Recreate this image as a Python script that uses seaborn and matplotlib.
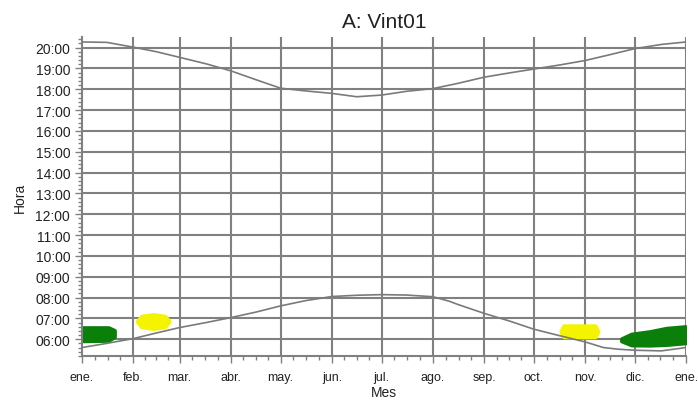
import matplotlib
matplotlib.use("Agg")
import matplotlib.pyplot as plt
import seaborn as sns
import pandas as pd
from matplotlib.ticker import FixedLocator, FuncFormatter

# MONTHS (day of year where each month starts)
month_labels = ["ene.", "feb.", "mar.", "abr.", "may.", "jun.", "jul.",
                "ago.", "sep.", "oct.", "nov.", "dic.", "ene."]
month_start_days = [0, 31, 59, 90, 120, 151, 181, 212, 243, 273, 304, 334, 365]

# SUNSET CURVE (hours)
sunset_days = [0, 15, 31, 45, 59, 75, 90, 105, 120, 135, 151, 166, 181,
               196, 212, 227, 243, 258, 273, 289, 304, 319, 334, 350, 365]
sunset_hours = [20.27, 20.25, 20.02, 19.80, 19.53, 19.22, 18.88, 18.46, 18.05,
                17.92, 17.80, 17.64, 17.72, 17.90, 18.03, 18.28, 18.58, 18.78,
                18.97, 19.17, 19.38, 19.66, 19.95, 20.15, 20.27]

# SUNRISE CURVE (hours)
sunrise_days = [0, 15, 31, 45, 59, 75, 90, 105, 120, 135, 151, 166, 181,
                196, 212, 222, 227, 243, 258, 273, 289, 304, 315, 324, 334,
                350, 365]
sunrise_hours = [5.60, 5.80, 6.03, 6.30, 6.56, 6.80, 7.04, 7.30, 7.60, 7.85,
                 8.05, 8.11, 8.14, 8.12, 8.04, 7.82, 7.67, 7.24, 6.88, 6.48,
                 6.16, 5.87, 5.60, 5.52, 5.47, 5.44, 5.60]

# EVENT AREAS (day, low hour, high hour)
green_jan_days = [0.5, 16, 19.5]
green_jan_low = [5.93, 5.95, 6.12]
green_jan_high = [6.55, 6.55, 6.42]

yellow_feb_days = [33.5, 36, 43, 50, 52.5]
yellow_feb_low = [6.85, 6.60, 6.52, 6.60, 6.85]
yellow_feb_high = [6.88, 7.10, 7.18, 7.10, 6.88]

yellow_nov_days = [289.5, 291, 310, 311.5]
yellow_nov_low = [6.35, 6.12, 6.12, 6.35]
yellow_nov_high = [6.40, 6.64, 6.64, 6.40]

green_dec_days = [326, 332, 343, 353, 364.5]
green_dec_low = [5.92, 5.73, 5.72, 5.75, 5.83]
green_dec_high = [6.02, 6.24, 6.36, 6.52, 6.60]

sunset_df = pd.DataFrame({"day": sunset_days, "hour": sunset_hours})
sunrise_df = pd.DataFrame({"day": sunrise_days, "hour": sunrise_hours})

sns.set_style("ticks")
plt.rcParams["font.family"] = ["Liberation Sans", "DejaVu Sans"]

fig, ax = plt.subplots(figsize=(6.98, 4.06), dpi=100)
fig.subplots_adjust(left=0.1175, right=0.983, top=0.906, bottom=0.121)

grid_color = "#808080"
ax.set_axisbelow(True)
for d in month_start_days[1:]:
    ax.axvline(d, color=grid_color, lw=1.5, zorder=0)
for h in range(6, 21):
    ax.axhline(h, color=grid_color, lw=1.5, zorder=0)

areas = [
    (green_jan_days, green_jan_low, green_jan_high, "#0a7f0a"),
    (yellow_feb_days, yellow_feb_low, yellow_feb_high, "#f4f400"),
    (yellow_nov_days, yellow_nov_low, yellow_nov_high, "#f4f400"),
    (green_dec_days, green_dec_low, green_dec_high, "#0a7f0a"),
]
for days, low, high, col in areas:
    ax.fill_between(days, low, high, color=col, edgecolor=col, lw=3,
                    joinstyle="round", zorder=2)

sns.lineplot(data=sunset_df, x="day", y="hour", color="#7a7a7a", lw=1.2,
             ax=ax, zorder=3)
sns.lineplot(data=sunrise_df, x="day", y="hour", color="#7a7a7a", lw=1.2,
             ax=ax, zorder=3)

ax.set_xlim(0, 365)
ax.set_ylim(5.2, 20.5)

ax.xaxis.set_major_locator(FixedLocator(month_start_days))
ax.set_xticklabels(month_labels)
minor_x = []
for a, b in zip(month_start_days[:-1], month_start_days[1:]):
    minor_x += [a + (b - a) * k / 4 for k in (1, 2, 3)]
ax.xaxis.set_minor_locator(FixedLocator(minor_x))

ax.yaxis.set_major_locator(FixedLocator(range(6, 21)))
ax.yaxis.set_major_formatter(FuncFormatter(lambda v, p: f"{int(round(v)):02d}:00"))
minor_y = [5.2 + 0.2 * i for i in range(77)]
ax.yaxis.set_minor_locator(FixedLocator(minor_y))

ax.tick_params(axis="both", which="major", length=5, width=1, color=grid_color,
               labelcolor="#222222")
ax.tick_params(axis="y", which="major", labelsize=10)
ax.tick_params(axis="x", which="major", labelsize=9, pad=6)
ax.tick_params(axis="both", which="minor", length=3, width=1, color=grid_color)

for side in ["top", "right"]:
    ax.spines[side].set_visible(False)
for side in ["left", "bottom"]:
    ax.spines[side].set_color(grid_color)
    ax.spines[side].set_linewidth(1.5)

ax.set_title("A: Vint01", fontsize=15, color="#222222", pad=7)
ax.set_xlabel("Mes", fontsize=10, color="#222222", labelpad=1)
ax.set_ylabel("Hora", fontsize=10, color="#222222", labelpad=6)

plt.savefig("out.png", dpi=100)
